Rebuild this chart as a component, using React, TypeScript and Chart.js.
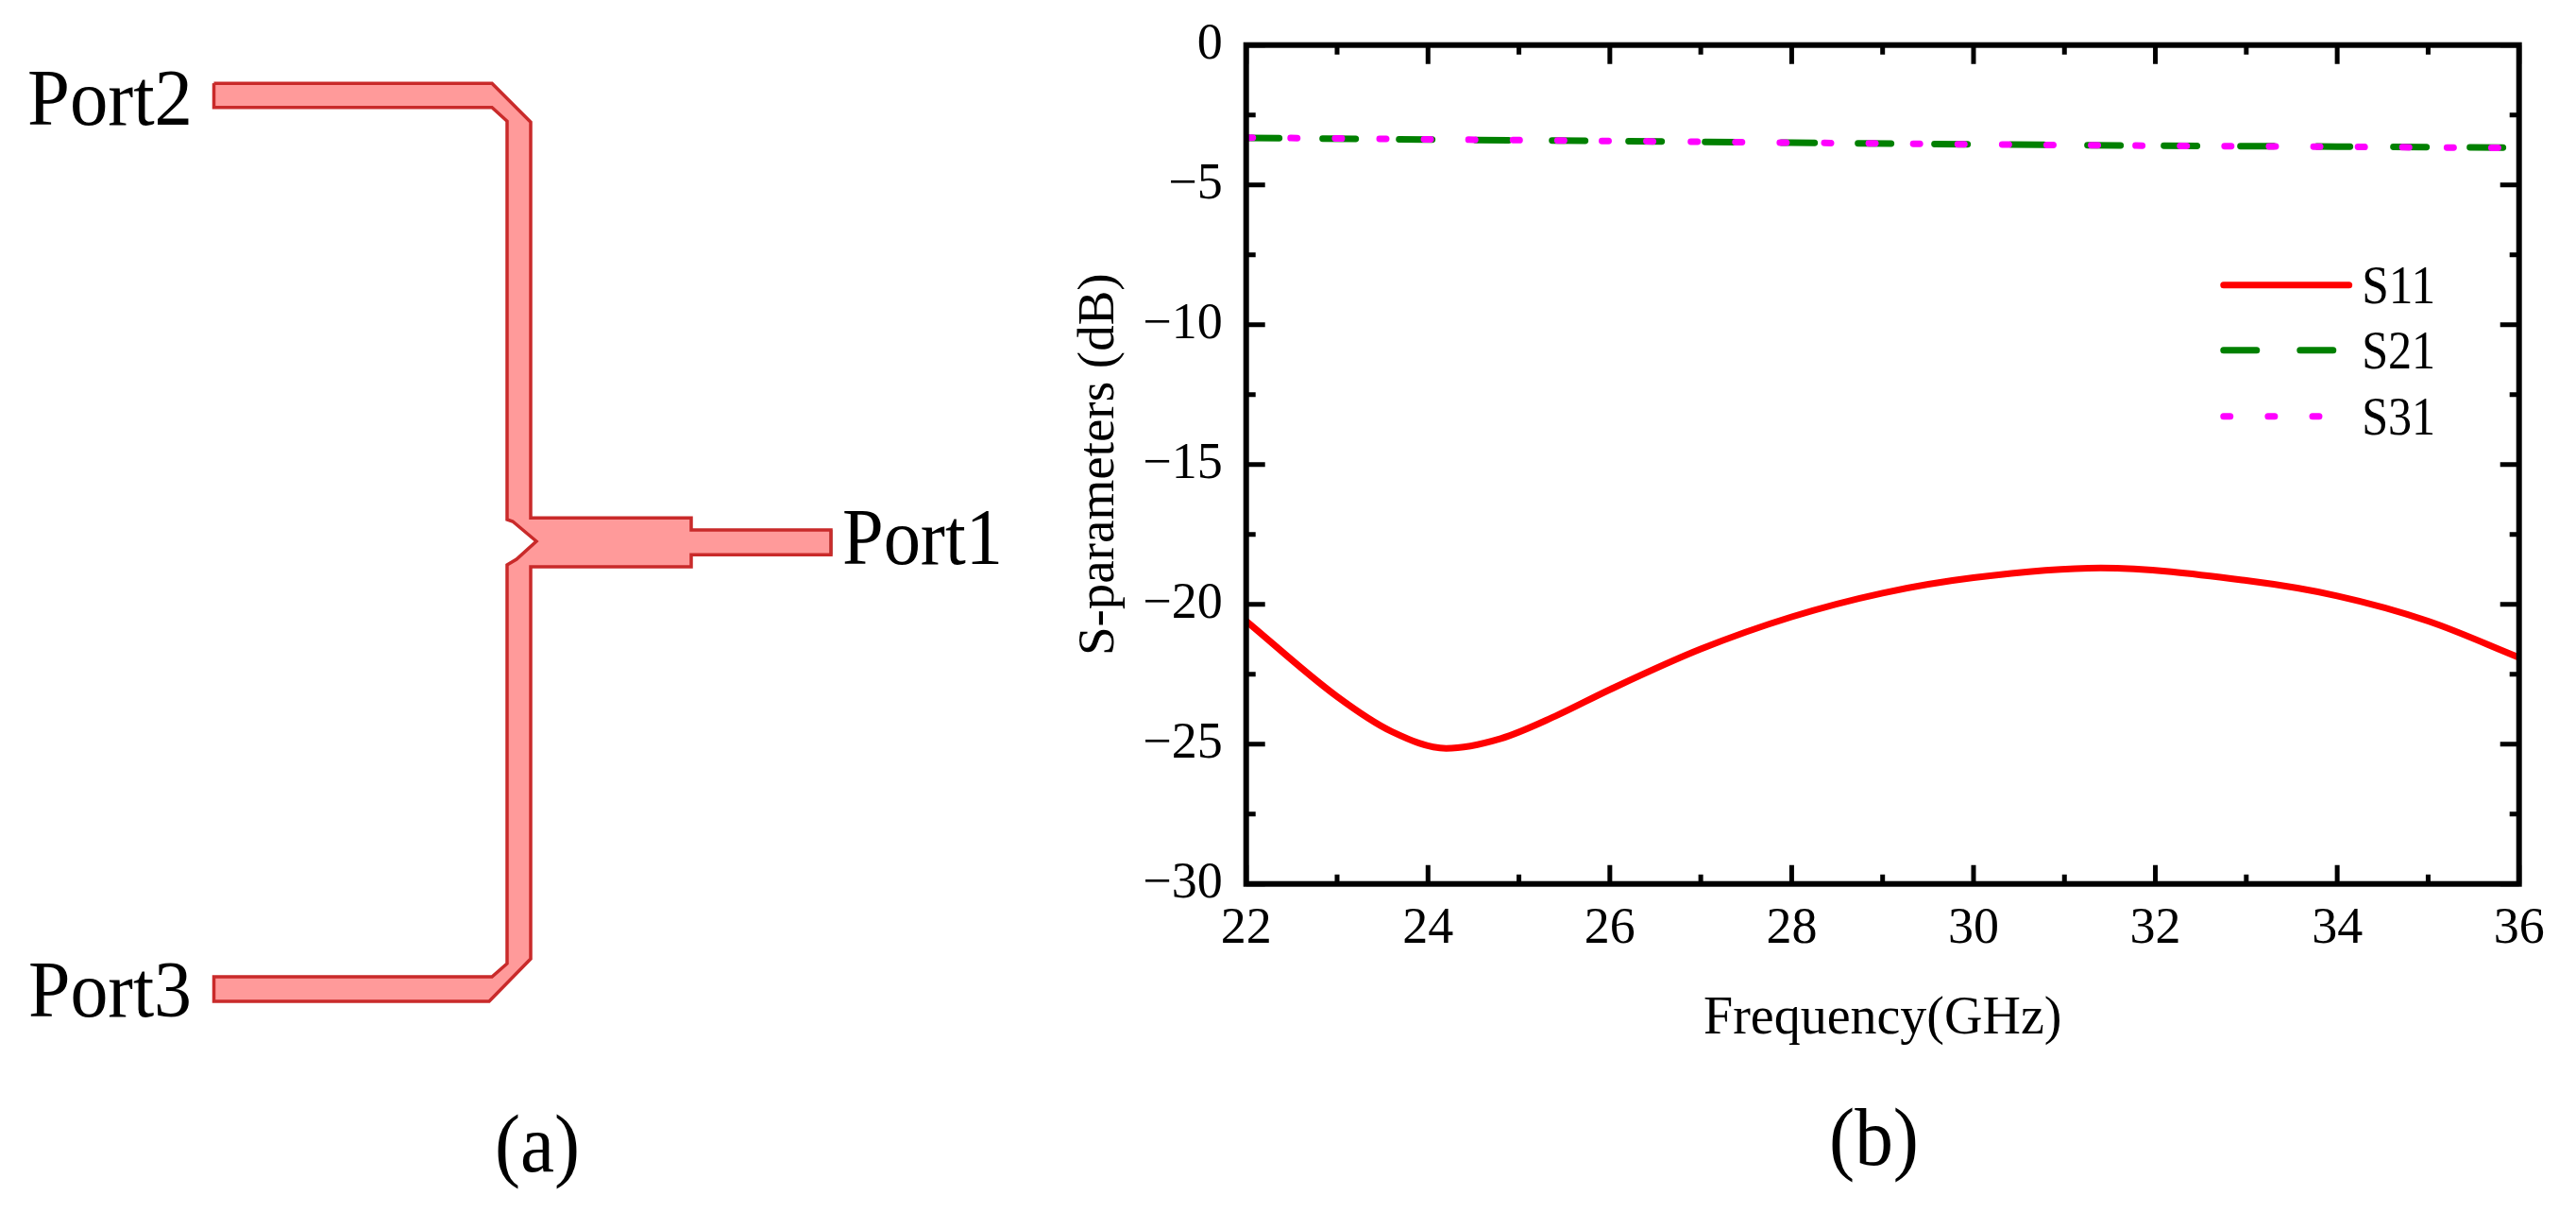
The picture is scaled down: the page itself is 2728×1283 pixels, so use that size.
import { useEffect, useRef } from "react"
import { Chart, registerables } from "chart.js"

Chart.register(...registerables)

const FONT = "'Liberation Serif', 'Times New Roman', serif"

// panel (b) data
const s11Freq = [22, 23, 23.6, 24.2, 24.8, 25.4, 26, 27, 28, 29, 30, 31.4, 33, 34, 35, 36]
const s11Values = [-20.6, -23.3, -24.55, -25.15, -24.8, -24.0, -23.05, -21.6, -20.45, -19.6, -19.05, -18.7, -19.15, -19.7, -20.6, -21.9]
const s21Freq = [22, 24, 26, 28, 30, 32, 34, 36]
const s21Values = [-3.32, -3.38, -3.43, -3.49, -3.55, -3.6, -3.63, -3.67]
const s31Values = [-3.31, -3.37, -3.43, -3.49, -3.55, -3.6, -3.64, -3.68]

const xTicks = [22, 24, 26, 28, 30, 32, 34, 36]
const xMinorTicks = [23, 25, 27, 29, 31, 33, 35]
const yTicks = [0, -5, -10, -15, -20, -25, -30]
const yMinorTicks = [-2.5, -7.5, -12.5, -17.5, -22.5, -27.5]

// legend keys sit in data space: y of each row, span of the key and start of the text
const legendRows = ["S11", "S21", "S31"]
const legendY = [-8.58, -10.91, -13.28]
const legendKeyX = [32.75, 34.13]
const legendTextX = 34.27

// panel (a) layout drawing, in image pixels
const traceOutline = [
  [226.5, 88.3], [521, 88.3], [562, 129.3], [562, 548.3], [732, 548.3], [732, 561], [880, 561],
  [880, 587.3], [732, 587.3], [732, 600], [562, 600], [562, 1015], [518, 1060], [226.5, 1060],
  [226.5, 1034], [521, 1034], [537, 1020], [537, 598], [547, 592], [568, 573], [543, 552], [537, 550],
  [537, 128.3], [521, 113.7], [226.5, 113.7], [226.5, 88.3],
]
const portEdges = [
  [[226.5, 88.3], [226.5, 113.7]],
  [[880, 561], [880, 587.3]],
  [[226.5, 1034], [226.5, 1060]],
]
const schematicLabels = [
  { text: "Port2", x: 29, y: 132, width: 175, size: 85 },
  { text: "Port1", x: 892, y: 597, width: 170, size: 85 },
  { text: "Port3", x: 30, y: 1076, width: 173, size: 85 },
  { text: "(a)", x: 524, y: 1240, width: 90, size: 86 },
]

const toPoints = (pts: number[][]) => pts.map(([x, y]) => ({ x, y }))

// fills the closed trace and writes the labels of panel (a)
const schematicPlugin = {
  id: "schematic",
  beforeDatasetsDraw(chart: any) {
    const { ctx, scales } = chart
    ctx.save()
    ctx.beginPath()
    traceOutline.forEach(([x, y], i) => {
      const px = scales.x.getPixelForValue(x)
      const py = scales.y.getPixelForValue(y)
      if (i === 0) ctx.moveTo(px, py)
      else ctx.lineTo(px, py)
    })
    ctx.closePath()
    ctx.fillStyle = "#ff9a9a"
    ctx.fill()
    ctx.restore()
  },
  afterDatasetsDraw(chart: any) {
    const { ctx, scales } = chart
    ctx.save()
    ctx.fillStyle = "#000"
    ctx.textBaseline = "alphabetic"
    ctx.textAlign = "left"
    schematicLabels.forEach((l) => {
      ctx.font = `${l.size}px ${FONT}`
      ctx.fillText(l.text, scales.x.getPixelForValue(l.x), scales.y.getPixelForValue(l.y), l.width)
    })
    ctx.restore()
  },
}

// frame, inward ticks on all four sides, legend and the (b) caption
const framePlugin = {
  id: "frame",
  afterDatasetsDraw(chart: any) {
    const { ctx, chartArea: a, scales } = chart
    ctx.save()
    ctx.strokeStyle = "#000"
    ctx.lineWidth = 6
    ctx.strokeRect(a.left, a.top, a.right - a.left, a.bottom - a.top)

    const major = 20
    const minor = 10
    const tickX = (v: number, len: number) => {
      const px = scales.x.getPixelForValue(v)
      ctx.beginPath()
      ctx.moveTo(px, a.top)
      ctx.lineTo(px, a.top + len)
      ctx.moveTo(px, a.bottom)
      ctx.lineTo(px, a.bottom - len)
      ctx.stroke()
    }
    const tickY = (v: number, len: number) => {
      const py = scales.y.getPixelForValue(v)
      ctx.beginPath()
      ctx.moveTo(a.left, py)
      ctx.lineTo(a.left + len, py)
      ctx.moveTo(a.right, py)
      ctx.lineTo(a.right - len, py)
      ctx.stroke()
    }
    ctx.lineWidth = 5
    xTicks.forEach((v) => tickX(v, major))
    xMinorTicks.forEach((v) => tickX(v, minor))
    yTicks.forEach((v) => tickY(v, major))
    yMinorTicks.forEach((v) => tickY(v, minor))

    // legend
    legendRows.forEach((name, i) => {
      const ds = chart.data.datasets.find((d: any) => d.label === name)
      const py = scales.y.getPixelForValue(legendY[i])
      ctx.save()
      ctx.beginPath()
      ctx.strokeStyle = ds.borderColor
      ctx.lineWidth = 7
      ctx.lineCap = "round"
      ctx.setLineDash(ds.borderDash || [])
      ctx.moveTo(scales.x.getPixelForValue(legendKeyX[0]), py)
      ctx.lineTo(scales.x.getPixelForValue(legendKeyX[1]), py)
      ctx.stroke()
      ctx.restore()
      ctx.fillStyle = "#000"
      ctx.font = `57px ${FONT}`
      ctx.textBaseline = "alphabetic"
      ctx.textAlign = "left"
      ctx.fillText(name, scales.x.getPixelForValue(legendTextX), py + 19, 78)
    })

    ctx.fillStyle = "#000"
    ctx.font = `86px ${FONT}`
    ctx.fillText("(b)", 805, 1233, 95)
    ctx.restore()
  },
}

export default function App() {
  const schematicRef = useRef<HTMLCanvasElement>(null)
  const plotRef = useRef<HTMLCanvasElement>(null)

  useEffect(() => {
    if (!schematicRef.current || !plotRef.current) return

    const schematic = new Chart(schematicRef.current, {
      type: "scatter",
      data: {
        datasets: [
          {
            data: toPoints(traceOutline),
            showLine: true,
            borderColor: "#c92a2a",
            borderWidth: 3.5,
            pointRadius: 0,
            tension: 0,
            clip: false,
          },
          ...portEdges.map((edge) => ({
            data: toPoints(edge),
            showLine: true,
            borderColor: "#5f7f68",
            borderWidth: 3,
            pointRadius: 0,
            clip: false,
          })),
        ],
      },
      options: {
        responsive: false,
        devicePixelRatio: 1,
        animation: false,
        layout: { padding: 0 },
        plugins: { legend: { display: false }, tooltip: { enabled: false } },
        scales: {
          x: { display: false, min: 0, max: 1132 },
          y: { display: false, min: 0, max: 1283, reverse: true },
        },
      },
      plugins: [schematicPlugin],
    } as any)

    const plot = new Chart(plotRef.current, {
      type: "scatter",
      data: {
        datasets: [
          {
            label: "S11",
            data: s11Freq.map((x, i) => ({ x, y: s11Values[i] })),
            showLine: true,
            borderColor: "#ff0000",
            borderWidth: 7,
            pointRadius: 0,
            cubicInterpolationMode: "monotone",
            order: 2,
          },
          {
            label: "S21",
            data: s21Freq.map((x, i) => ({ x, y: s21Values[i] })),
            showLine: true,
            borderColor: "#008000",
            borderWidth: 7,
            borderDash: [35, 46],
            borderCapStyle: "round",
            pointRadius: 0,
            order: 1,
          },
          {
            label: "S31",
            data: s21Freq.map((x, i) => ({ x, y: s31Values[i] })),
            showLine: true,
            borderColor: "#ff00ff",
            borderWidth: 7,
            borderDash: [7, 40.1],
            borderCapStyle: "round",
            pointRadius: 0,
            order: 0,
          },
        ],
      },
      options: {
        responsive: false,
        devicePixelRatio: 1,
        animation: false,
        layout: { padding: { left: 0, top: 47.7, right: 60.3, bottom: 170 } },
        plugins: { legend: { display: false }, tooltip: { enabled: false } },
        scales: {
          x: {
            type: "linear",
            min: 22,
            max: 36,
            afterBuildTicks: (s: any) => {
              s.ticks = xTicks.map((value) => ({ value }))
            },
            afterFit: (s: any) => {
              s.height = 177.3
            },
            grid: { display: false, drawTicks: false },
            border: { display: false },
            ticks: {
              color: "#000",
              padding: 16,
              maxRotation: 0,
              autoSkip: false,
              font: { family: FONT, size: 54 },
            },
            title: {
              display: true,
              text: "Frequency(GHz)",
              color: "#000",
              padding: 0,
              font: { family: FONT, size: 56 },
            },
          },
          y: {
            type: "linear",
            min: -30,
            max: 0,
            afterBuildTicks: (s: any) => {
              s.ticks = yTicks.map((value) => ({ value }))
            },
            afterFit: (s: any) => {
              // label overhang would otherwise push the plot top down
              s.width = 187.7
              s.paddingTop = 0
              s.paddingBottom = 0
            },
            grid: { display: false, drawTicks: false },
            border: { display: false },
            ticks: {
              color: "#000",
              padding: 25,
              autoSkip: false,
              font: { family: FONT, size: 54 },
              callback: (v: any) => (v < 0 ? `\u2212${Math.abs(v)}` : `${v}`),
            },
            title: {
              display: true,
              text: "S-parameters (dB)",
              color: "#000",
              padding: 0,
              font: { family: FONT, size: 55 },
            },
          },
        },
      },
      plugins: [framePlugin],
    } as any)

    return () => {
      schematic.destroy()
      plot.destroy()
    }
  }, [])

  return (
    <div style={{ position: "absolute", left: 0, top: 0, width: 2728, height: 1283, background: "#fff", overflow: "hidden" }}>
      <canvas ref={schematicRef} width={1132} height={1283} style={{ position: "absolute", left: 0, top: 0 }} />
      <canvas ref={plotRef} width={1596} height={1283} style={{ position: "absolute", left: 1132, top: 0 }} />
    </div>
  )
}
